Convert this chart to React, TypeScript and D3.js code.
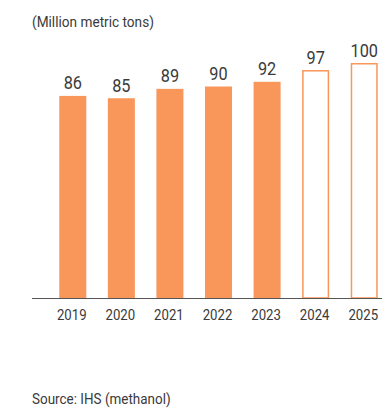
import React from "react";
import * as d3 from "d3";

const years = ["2019", "2020", "2021", "2022", "2023", "2024", "2025"];
const values = [86, 85, 89, 90, 92, 97, 100];
const forecast = [false, false, false, false, false, true, true];

const W = 382;
const H = 410;
const FONT = "Roboto, sans-serif";
const SX = 0.88;

function CText({ x, y, size, anchor, children, fill }: any) {
  return (
    <text
      transform={`translate(${x},${y}) scale(${SX},1)`}
      textAnchor={anchor || "start"}
      fontFamily={FONT}
      fontSize={size}
      fill={fill}
    >
      {children}
    </text>
  );
}

export default function App() {
  const baseY = 298;
  const x = d3.scaleBand<string>().domain(years).range([37.7, 399.3]).paddingInner(0.444).paddingOuter(0.444);
  const y = d3.scaleLinear().domain([0, 100]).range([baseY, 63]);
  const orange = "#F9965A";
  const text = "#3a3a3a";
  return (
    <svg width={W} height={H} style={{ position: "absolute", left: 0, top: 0 }}>
      <CText x={32} y={27} size={15.5} fill={text}>(Million metric tons)</CText>
      {years.map((yr, i) => {
        const bx = x(yr)!;
        const bw = x.bandwidth();
        const top = y(values[i]);
        return (
          <g key={yr}>
            {forecast[i] ? (
              <rect x={bx + 0.75} y={top + 0.75} width={bw - 1.5} height={baseY - top - 0.75} fill="none" stroke={orange} strokeWidth={1.5} />
            ) : (
              <rect x={bx} y={top} width={bw} height={baseY - top} fill={orange} />
            )}
            <CText x={bx + bw / 2} y={top - 6.5} anchor="middle" size={18.5} fill={text}>{values[i]}</CText>
            <CText x={bx + bw / 2 - 1} y={319.5} anchor="middle" size={15} fill={text}>{yr}</CText>
          </g>
        );
      })}
      <line x1={32} x2={382} y1={298.5} y2={298.5} stroke="#555" strokeWidth={1} />
      <CText x={32} y={404} size={15.3} fill={text}>Source: IHS (methanol)</CText>
    </svg>
  );
}
